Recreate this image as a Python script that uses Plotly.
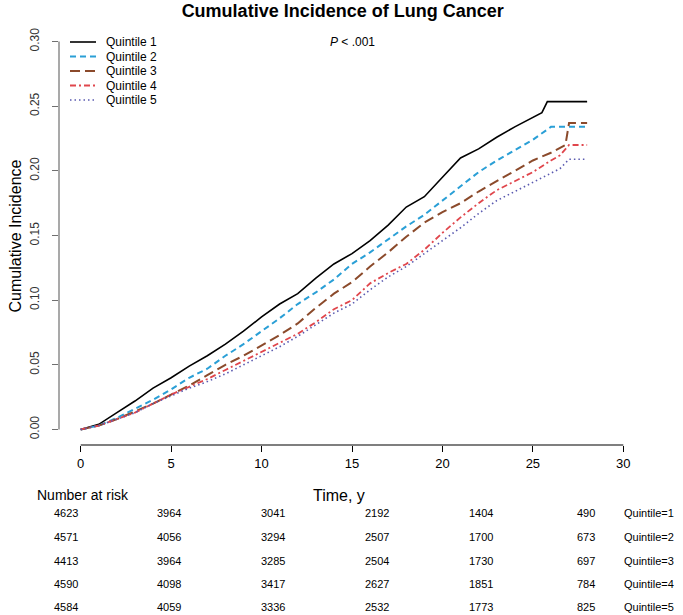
import plotly.graph_objects as go

# ---------------- data ----------------
series_names = ["Quintile 1", "Quintile 2", "Quintile 3", "Quintile 4", "Quintile 5"]

t_q1 = [0, 1, 2, 3, 4, 5, 6, 7, 8, 9, 10, 11, 12, 13, 14, 15, 16, 17, 18, 19, 20, 21, 22, 23, 24, 25, 25.5, 25.8, 28]
v_q1 = [0, 0.004, 0.013, 0.022, 0.032, 0.040, 0.049, 0.057, 0.066, 0.076, 0.087, 0.097, 0.105, 0.117, 0.128,
        0.136, 0.146, 0.158, 0.172, 0.180, 0.195, 0.210, 0.217, 0.226, 0.234, 0.241, 0.245, 0.2535, 0.2535]

t_q2 = [0, 1, 2, 3, 4, 5, 6, 7, 8, 9, 10, 11, 12, 13, 14, 15, 16, 17, 18, 19, 20, 21, 22, 23, 24, 25, 26, 28]
v_q2 = [0, 0.003, 0.009, 0.016, 0.023, 0.031, 0.040, 0.047, 0.057, 0.066, 0.076, 0.086, 0.097, 0.106, 0.116,
        0.128, 0.137, 0.147, 0.157, 0.166, 0.177, 0.188, 0.199, 0.208, 0.216, 0.224, 0.234, 0.234]

t_q3 = [0, 1, 2, 3, 4, 5, 6, 7, 8, 9, 10, 11, 12, 13, 14, 15, 16, 17, 18, 19, 20, 21, 22, 23, 24, 25, 26, 26.8, 27, 28]
v_q3 = [0, 0.003, 0.008, 0.014, 0.020, 0.027, 0.034, 0.042, 0.050, 0.057, 0.065, 0.073, 0.082, 0.094, 0.105,
        0.114, 0.126, 0.137, 0.149, 0.160, 0.168, 0.175, 0.184, 0.192, 0.200, 0.208, 0.214, 0.220, 0.237, 0.237]

t_q4 = [0, 1, 2, 3, 4, 5, 6, 7, 8, 9, 10, 11, 12, 13, 14, 15, 16, 17, 18, 19, 20, 21, 22, 23, 24, 25, 26, 26.5, 27, 28]
v_q4 = [0, 0.003, 0.008, 0.013, 0.020, 0.027, 0.033, 0.039, 0.046, 0.053, 0.060, 0.067, 0.074, 0.083, 0.093,
        0.100, 0.113, 0.121, 0.128, 0.139, 0.152, 0.164, 0.175, 0.185, 0.192, 0.199, 0.208, 0.212, 0.220, 0.220]

t_q5 = [0, 1, 2, 3, 4, 5, 6, 7, 8, 9, 10, 11, 12, 13, 14, 15, 16, 17, 18, 19, 20, 21, 22, 23, 24, 25, 26, 26.5, 27, 28]
v_q5 = [0, 0.003, 0.008, 0.013, 0.020, 0.026, 0.032, 0.037, 0.043, 0.050, 0.057, 0.064, 0.072, 0.081, 0.090,
        0.097, 0.108, 0.118, 0.126, 0.136, 0.146, 0.156, 0.167, 0.177, 0.184, 0.191, 0.198, 0.2017, 0.209, 0.209]

x_ticks = [0, 5, 10, 15, 20, 25, 30]
y_ticks = [0.00, 0.05, 0.10, 0.15, 0.20, 0.25, 0.30]
y_tick_labels = ["0.00", "0.05", "0.10", "0.15", "0.20", "0.25", "0.30"]

risk_row_labels = ["Quintile=1", "Quintile=2", "Quintile=3", "Quintile=4", "Quintile=5"]
risk_q1 = [4623, 3964, 3041, 2192, 1404, 490]
risk_q2 = [4571, 4056, 3294, 2507, 1700, 673]
risk_q3 = [4413, 3964, 3285, 2504, 1730, 697]
risk_q4 = [4590, 4098, 3417, 2627, 1851, 784]
risk_q5 = [4584, 4059, 3336, 2532, 1773, 825]

# ---------------- styles ----------------
colors = ["#000000", "#2A9FD6", "#8B4A2B", "#E0464C", "#5A5AB0"]
dashes = ["solid", "6px,4px", "10px,5px", "6px,3px,2px,3px", "1.5px,3px"]
widths = [1.6, 2.0, 2.0, 1.8, 1.6]

FONT = "Arial, Liberation Sans, Helvetica, sans-serif"
W, H = 683, 615
L, R, T, B = 59, 38, 26, 170
PW, PH = W - L - R, H - T - B


def xp(px):
    return (px - L) / PW


def yp(py):
    return (T + PH - py) / PH


fig = go.Figure()
all_t = [t_q1, t_q2, t_q3, t_q4, t_q5]
all_v = [v_q1, v_q2, v_q3, v_q4, v_q5]
for name, tt, vv, c, d, w in zip(series_names, all_t, all_v, colors, dashes, widths):
    fig.add_trace(go.Scatter(x=tt, y=vv, mode="lines", name=name,
                             line=dict(color=c, dash=d, width=w), showlegend=False))

shapes = []
# detached R-style axis lines
shapes.append(dict(type="line", xref="x", yref="paper", x0=x_ticks[0], x1=x_ticks[-1], y0=0, y1=0,
                   line=dict(color="#000000", width=1.2)))
shapes.append(dict(type="line", xref="paper", yref="y", x0=0, x1=0, y0=y_ticks[0], y1=y_ticks[-1],
                   line=dict(color="#707070", width=1.2)))

annotations = []
# manual legend
leg_y = [42, 56.5, 71, 85.5, 100]
for i, name in enumerate(series_names):
    shapes.append(dict(type="line", xref="paper", yref="paper", x0=xp(70), x1=xp(96),
                       y0=yp(leg_y[i]), y1=yp(leg_y[i]),
                       line=dict(color=colors[i], dash=dashes[i], width=widths[i])))
    annotations.append(dict(text=name, xref="paper", yref="paper", x=xp(104), y=yp(leg_y[i]),
                            xanchor="left", yanchor="middle", showarrow=False,
                            font=dict(family=FONT, size=12, color="#000000")))

# P value
annotations.append(dict(text="<i>P</i> < .001", xref="x", yref="paper", x=15, y=yp(42),
                        xanchor="center", yanchor="middle", showarrow=False,
                        font=dict(family=FONT, size=12, color="#000000")))

# axis titles
annotations.append(dict(text="Cumulative Incidence", xref="paper", yref="paper", x=xp(15), y=0.5,
                        textangle=-90, xanchor="center", yanchor="middle", showarrow=False,
                        font=dict(family=FONT, size=16, color="#000000")))
annotations.append(dict(text="Time, y", xref="paper", yref="paper", x=xp(339), y=yp(495),
                        xanchor="center", yanchor="middle", showarrow=False,
                        font=dict(family=FONT, size=16, color="#000000")))
annotations.append(dict(text="Number at risk", xref="paper", yref="paper", x=xp(35), y=yp(495),
                        xanchor="left", yanchor="middle", showarrow=False,
                        font=dict(family=FONT, size=14, color="#000000")))

# risk table
col_x = [66, 169, 273, 377, 481, 586]
row_y = [513, 537, 561, 584, 607]
risk_rows = [risk_q1, risk_q2, risk_q3, risk_q4, risk_q5]
for r, (lab, row) in enumerate(zip(risk_row_labels, risk_rows)):
    for c, val in enumerate(row):
        annotations.append(dict(text=str(val), xref="paper", yref="paper", x=xp(col_x[c]), y=yp(row_y[r]),
                                xanchor="center", yanchor="middle", showarrow=False,
                                font=dict(family=FONT, size=11, color="#000000")))
    annotations.append(dict(text=lab, xref="paper", yref="paper", x=xp(622), y=yp(row_y[r]),
                            xanchor="left", yanchor="middle", showarrow=False,
                            font=dict(family=FONT, size=11, color="#000000")))

fig.update_layout(
    width=W, height=H,
    margin=dict(l=L, r=R, t=T, b=B, pad=0),
    paper_bgcolor="white", plot_bgcolor="white",
    title=dict(text="<b>Cumulative Incidence of Lung Cancer</b>", x=xp(353), xanchor="center",
               y=1 - 11 / H, yanchor="middle", font=dict(family=FONT, size=18, color="#000000")),
    xaxis=dict(range=[-1.2, 31.2], tickvals=x_ticks, ticktext=[str(v) for v in x_ticks],
               showgrid=False, zeroline=False, showline=False, ticks="outside", ticklen=6,
               tickwidth=1.2, tickcolor="#000000", automargin=False,
               tickfont=dict(family=FONT, size=13, color="#000000")),
    yaxis=dict(range=[-0.012, 0.312], tickvals=y_ticks, ticktext=y_tick_labels,
               showgrid=False, zeroline=False, showline=False, ticks="outside", ticklen=6,
               tickwidth=1.2, tickcolor="#707070", tickangle=-90, ticklabelstandoff=8,
               automargin=False,
               tickfont=dict(family=FONT, size=12, color="#333333")),
    shapes=shapes, annotations=annotations, showlegend=False,
)

fig.write_html("out.html", config={"displayModeBar": False},
               post_script="document.body.style.margin='0px';")
